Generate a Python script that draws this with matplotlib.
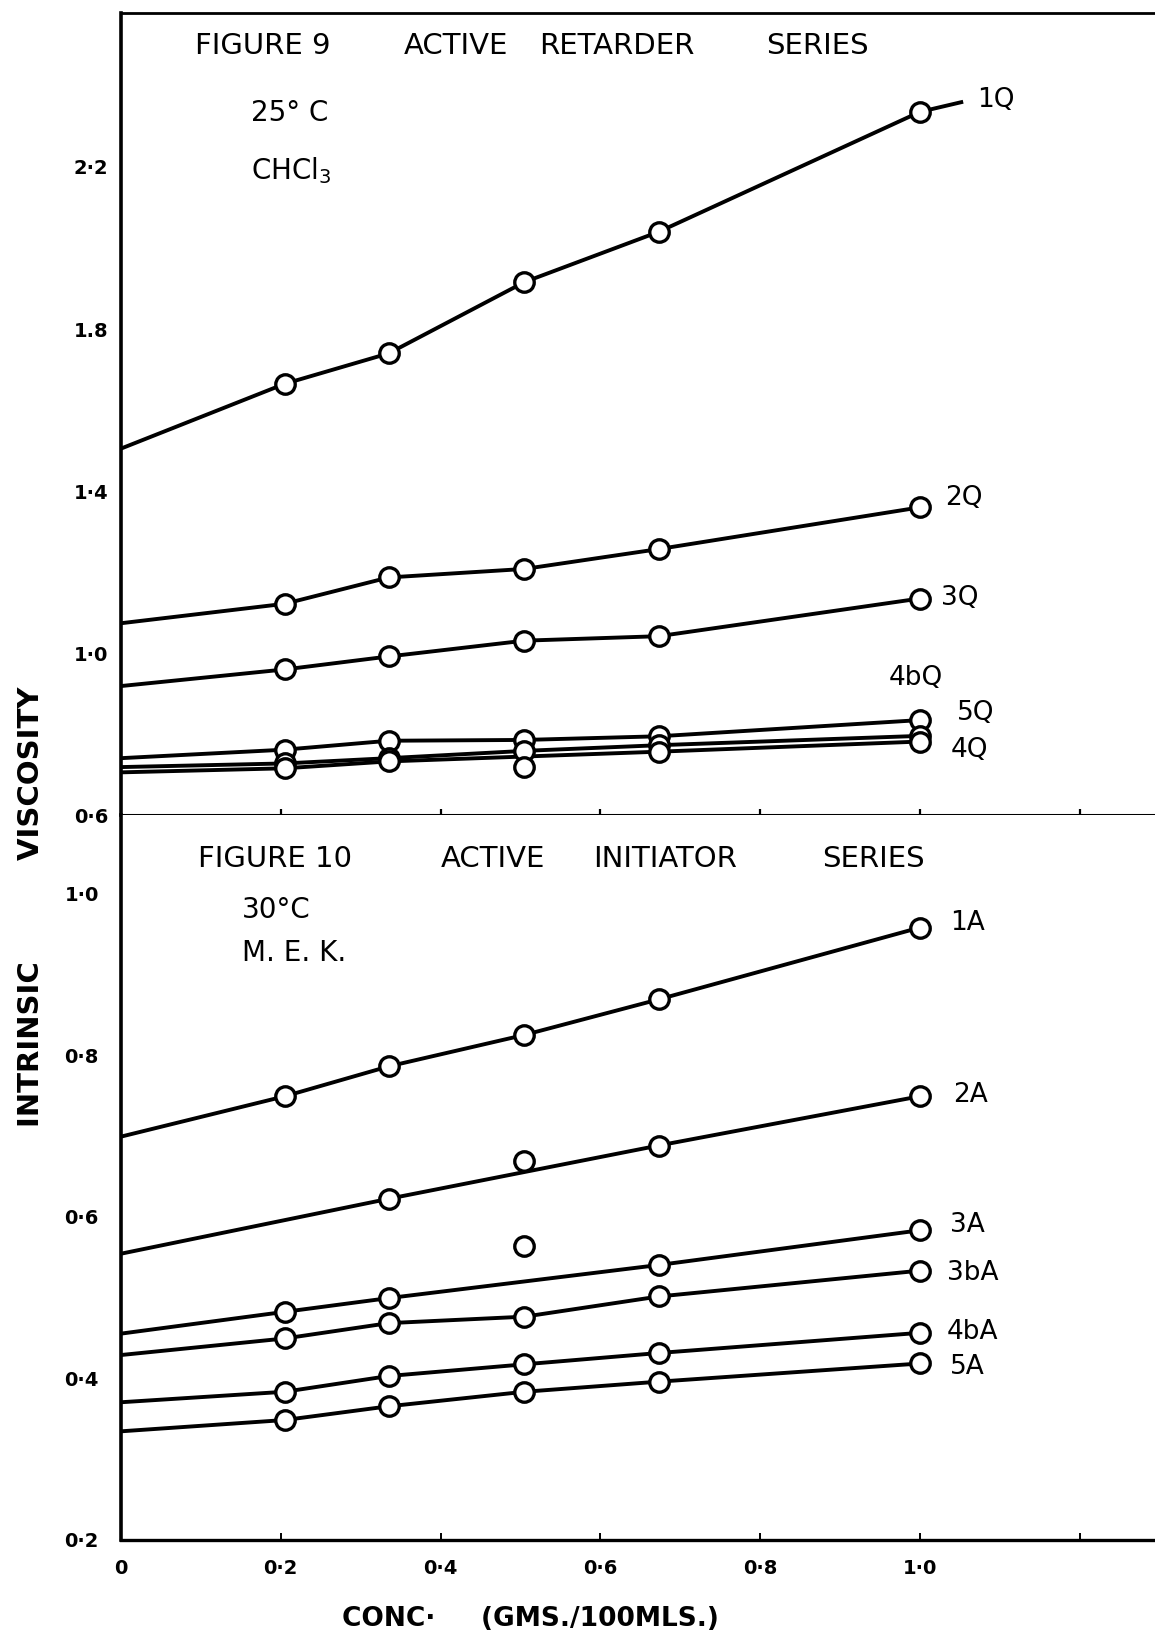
import matplotlib
matplotlib.use("Agg")
import matplotlib.pyplot as plt

# ---------------- data ----------------
conc = [0.205, 0.335, 0.505, 0.673, 1.0]          # GMS./100MLS.

# Figure 9 : active retarder series (25 C, CHCl3)
q_names = ["1Q", "2Q", "3Q", "5Q", "4bQ", "4Q"]
visc_1Q = [1.665, 1.740, 1.916, 2.040, 2.336]
visc_2Q = [1.122, 1.187, 1.208, 1.257, 1.360]
visc_3Q = [0.960, 0.992, 1.031, 1.042, 1.135]
visc_5Q = [0.762, 0.784, 0.786, 0.795, 0.835]
visc_4bQ = [0.728, 0.741, 0.759, 0.773, 0.796]
visc_4Q = [0.716, 0.733, 0.720, 0.757, 0.782]
q_intercepts = [1.505, 1.074, 0.919, 0.741, 0.719, 0.706]  # line value at conc 0
q1_line_tail = (1.054, 2.361)                               # 1Q line runs past last point

# Figure 10 : active initiator series (30 C, M.E.K.)
a_names = ["1A", "2A", "3A", "3bA", "4bA", "5A"]
conc_2A = [0.335, 0.505, 0.673, 1.0]
visc_1A = [0.749, 0.786, 0.825, 0.869, 0.958]
visc_2A = [0.622, 0.669, 0.688, 0.749]
visc_3A = [0.482, 0.499, 0.563, 0.540, 0.583]
visc_3bA = [0.449, 0.468, 0.476, 0.501, 0.533]
visc_4bA = [0.383, 0.4025, 0.417, 0.431, 0.456]
visc_5A = [0.348, 0.365, 0.383, 0.3955, 0.418]
a_intercepts = [0.699, 0.554, 0.455, 0.4285, 0.370, 0.334]

# points that the drawn line does not pass through (index into the series)
off_line = {"4Q": [2], "2A": [1], "3A": [2]}

top_yticks = [0.6, 1.0, 1.4, 1.8, 2.2]
top_yticklabels = ["0·6", "1·0", "1·4", "1.8", "2·2"]
bot_yticks = [0.2, 0.4, 0.6, 0.8, 1.0]
bot_yticklabels = ["0·2", "0·4", "0·6", "0·8", "1·0"]
xticks = [0, 0.2, 0.4, 0.6, 0.8, 1.0, 1.2]
xticklabels = ["0", "0·2", "0·4", "0·6", "0·8", "1·0", ""]

# label positions (layout)
q_label_pos = [(1.072, 2.365), (1.031, 1.383), (1.026, 1.136),
               (1.046, 0.853), (0.961, 0.939), (1.038, 0.761)]
a_label_pos = [(1.038, 0.963), (1.041, 0.751), (1.038, 0.590),
               (1.034, 0.530), (1.034, 0.457), (1.038, 0.414)]

# ---------------- figure ----------------
W, H = 1155, 1644
fig = plt.figure(figsize=(W / 100, H / 100), dpi=100)
fig.patch.set_facecolor("white")

left = 121 / W
top_ax = fig.add_axes([left, 1 - 815.3 / H, 1 - left, (815.3 - 13) / H])
bot_ax = fig.add_axes([left, 1 - 1539.5 / H, 1 - left, (1539.5 - 815.3) / H])

xmax = (W - 121) / 799.0
LW = 2.8
MS = 14
MEW = 2.4
INK = "black"


def draw_series(ax, name, xs, ys, intercept, tail=None):
    skip = off_line.get(name, [])
    lx = [0.0] + [x for i, x in enumerate(xs) if i not in skip]
    ly = [intercept] + [y for i, y in enumerate(ys) if i not in skip]
    if tail is not None:
        lx.append(tail[0])
        ly.append(tail[1])
    ax.plot(lx, ly, color=INK, lw=LW, solid_capstyle="butt",
            solid_joinstyle="round", zorder=2, clip_on=False)
    ax.plot(xs, ys, linestyle="none", marker="o", ms=MS, mew=MEW,
            mfc="white", mec=INK, zorder=3, clip_on=False)


# ---- top panel ----
q_values = [visc_1Q, visc_2Q, visc_3Q, visc_5Q, visc_4bQ, visc_4Q]
for i, (name, ys) in enumerate(zip(q_names, q_values)):
    draw_series(top_ax, name, conc, ys, q_intercepts[i],
                tail=q1_line_tail if name == "1Q" else None)
for name, (lx, ly) in zip(q_names, q_label_pos):
    top_ax.text(lx, ly, name, fontsize=19, ha="left", va="center", color=INK)

top_ax.set_xlim(0, xmax)
top_ax.set_ylim(0.6, 2.58)
top_ax.set_xticks([0.2, 0.4, 0.6, 0.8, 1.0, 1.2])
top_ax.tick_params(axis="x", direction="inout", length=8, width=1.6,
                   labelbottom=False, color=INK)
top_ax.set_yticks(top_yticks)
top_ax.set_yticklabels(top_yticklabels, fontsize=14, fontweight="bold")
top_ax.tick_params(axis="y", length=0, pad=9)
top_ax.spines["right"].set_visible(False)
top_ax.spines["left"].set_linewidth(2.6)
top_ax.spines["top"].set_linewidth(2.0)
top_ax.spines["bottom"].set_linewidth(2.2)

tfs = 21
top_ax.text(0.093, 2.498, "FIGURE 9", fontsize=tfs, va="center", ha="left")
top_ax.text(0.354, 2.498, "ACTIVE", fontsize=tfs, va="center", ha="left")
top_ax.text(0.523, 2.498, "RETARDER", fontsize=tfs, va="center", ha="left")
top_ax.text(0.807, 2.498, "SERIES", fontsize=tfs, va="center", ha="left")
top_ax.text(0.1625, 2.332, "25° C", fontsize=20, va="center", ha="left")
top_ax.text(0.1625, 2.190, "CHCl$_3$", fontsize=20, va="center", ha="left")

# ---- bottom panel ----
a_conc = [conc, conc_2A, conc, conc, conc, conc]
a_values = [visc_1A, visc_2A, visc_3A, visc_3bA, visc_4bA, visc_5A]
for i, (name, xs, ys) in enumerate(zip(a_names, a_conc, a_values)):
    draw_series(bot_ax, name, xs, ys, a_intercepts[i])
for name, (lx, ly) in zip(a_names, a_label_pos):
    bot_ax.text(lx, ly, name, fontsize=19, ha="left", va="center", color=INK)

bot_ax.set_xlim(0, xmax)
bot_ax.set_ylim(0.2, 1.097)
bot_ax.set_xticks(xticks)
bot_ax.set_xticklabels(xticklabels, fontsize=14, fontweight="bold")
bot_ax.tick_params(axis="x", direction="in", length=5, width=1.4, pad=14,
                   color=INK)
bot_ax.set_yticks(bot_yticks)
bot_ax.set_yticklabels(bot_yticklabels, fontsize=14, fontweight="bold")
bot_ax.tick_params(axis="y", length=0, pad=16)
bot_ax.spines["right"].set_visible(False)
bot_ax.spines["top"].set_visible(False)
bot_ax.spines["left"].set_linewidth(2.6)
bot_ax.spines["bottom"].set_linewidth(2.4)

bot_ax.text(0.096, 1.043, "FIGURE 10", fontsize=tfs, va="center", ha="left")
bot_ax.text(0.400, 1.043, "ACTIVE", fontsize=tfs, va="center", ha="left")
bot_ax.text(0.591, 1.043, "INITIATOR", fontsize=tfs, va="center", ha="left")
bot_ax.text(0.877, 1.043, "SERIES", fontsize=tfs, va="center", ha="left")
bot_ax.text(0.151, 0.980, "30°C", fontsize=20, va="center", ha="left")
bot_ax.text(0.151, 0.927, "M. E. K.", fontsize=20, va="center", ha="left")

for ax in (top_ax, bot_ax):
    ax.set_facecolor("white")

# axis titles
fig.text(0.0272, 0.4486, "INTRINSIC          VISCOSITY", rotation=90,
         fontsize=21, fontweight="bold", ha="center", va="center")
fig.text(0.459, 0.0152, "CONC·     (GMS./100MLS.)", fontsize=19,
         fontweight="bold", ha="center", va="center")

fig.savefig("out.png", dpi=100, facecolor="white")
